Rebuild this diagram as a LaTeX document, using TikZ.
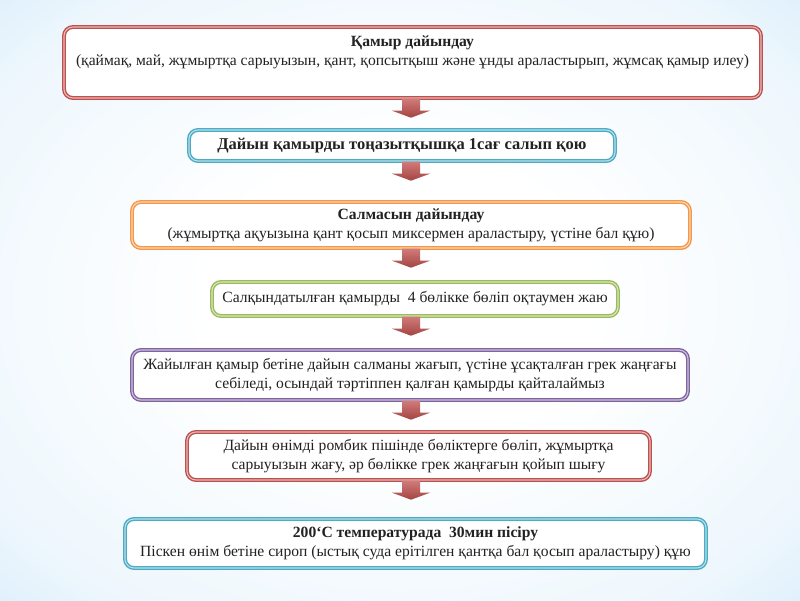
\documentclass[tikz,border=0pt]{standalone}
\usepackage{fontspec}
\setmainfont{Liberation Serif}
\usetikzlibrary{calc,shadows}
\definecolor{cRed}{HTML}{C0504D}
\definecolor{cBlue}{HTML}{4BACC6}
\definecolor{cOrange}{HTML}{F79646}
\definecolor{cGreen}{HTML}{9BBB59}
\definecolor{cPurple}{HTML}{8064A2}
\definecolor{bgA}{HTML}{EEF7FD}
\definecolor{bgB}{HTML}{C0E1F8}
\definecolor{bgC}{HTML}{98CEF3}
\definecolor{txt}{HTML}{222222}
\pgfdeclareradialshading{bgshade}{\pgfpoint{0bp}{0bp}}{color(0bp)=(white); color(12bp)=(white); color(30bp)=(bgA); color(48bp)=(bgB); color(71bp)=(bgC)}
\newcommand\flowarr[2]{%
  \shade[top color=cRed!75!white, bottom color=cRed!85!black]
    ($(#1.south -| ax)+(-9,0)$) -- ($(#1.south -| ax)+(9,0)$) -- ($(#1.south -| ax)+(9,12)$)
    -- ($(#1.south -| ax)+(19,12)$) -- ($(#1.south -| ax)+(0,19)$) coordinate (#1tip) -- ($(#1.south -| ax)+(-19,12)$)
    -- ($(#1.south -| ax)+(-9,12)$) -- cycle;
  \path (#1tip) -- (#2.north);}
\begin{document}
\begin{tikzpicture}[x=1pt,y=-1pt,
  box/.style={draw=#1, fill=white, line width=1.4pt, double=#1!40!white, double distance=1.1pt,
    rounded corners=9pt, align=center, font=\fontsize{15.6}{19}\selectfont, text=txt, inner sep=3pt,
    drop shadow={opacity=0.2, shadow xshift=1pt, shadow yshift=-2pt}}]
  \useasboundingbox (0,0) rectangle (800,600);
  \shade[shading=bgshade] (0,0) rectangle (800,600);
  \coordinate (ax) at (411,0);
  \node[box=cRed, minimum width=697, minimum height=71] (b1) at (412.5,62.5)
    {\textbf{Қамыр дайындау}\\(қаймақ, май, жұмыртқа сарыуызын, қант, қопсытқыш және ұнды араластырып, жұмсақ қамыр илеу)\\\strut};
  \node[box=cBlue, minimum width=426, minimum height=31, font=\fontsize{16.5}{19}\selectfont] (b2) at (402,145.5)
    {\textbf{Дайын қамырды тоңазытқышқа 1сағ салып қою}};
  \node[box=cOrange, minimum width=558, minimum height=46] (b3) at (411,225)
    {\textbf{Салмасын дайындау}\\(жұмыртқа ақуызына қант қосып миксермен араластыру, үстіне бал құю)};
  \node[box=cGreen, minimum width=406, minimum height=34] (b4) at (415,299)
    {Салқындатылған қамырды\ \ 4 бөлікке бөліп оқтаумен жаю};
  \node[box=cPurple, minimum width=556, minimum height=50] (b5) at (410,375)
    {Жайылған қамыр бетіне дайын салманы жағып, үстіне ұсақталған грек жаңғағы\\себіледі, осындай тәртіппен қалған қамырды қайталаймыз};
  \node[box=cRed, minimum width=463, minimum height=48] (b6) at (418.5,456)
    {Дайын өнімді ромбик пішінде бөліктерге бөліп, жұмыртқа\\сарыуызын жағу, әр бөлікке грек жаңғағын қойып шығу};
  \node[box=cBlue, minimum width=581, minimum height=49] (b7) at (415.5,543.5)
    {\textbf{200`С температурада\ \ 30мин пісіру}\\Піскен өнім бетіне сироп (ыстық суда ерітілген қантқа бал қосып араластыру) құю};
  \flowarr{b1}{b2}
  \flowarr{b2}{b3}
  \flowarr{b3}{b4}
  \flowarr{b4}{b5}
  \flowarr{b5}{b6}
  \flowarr{b6}{b7}
\end{tikzpicture}
\end{document}
